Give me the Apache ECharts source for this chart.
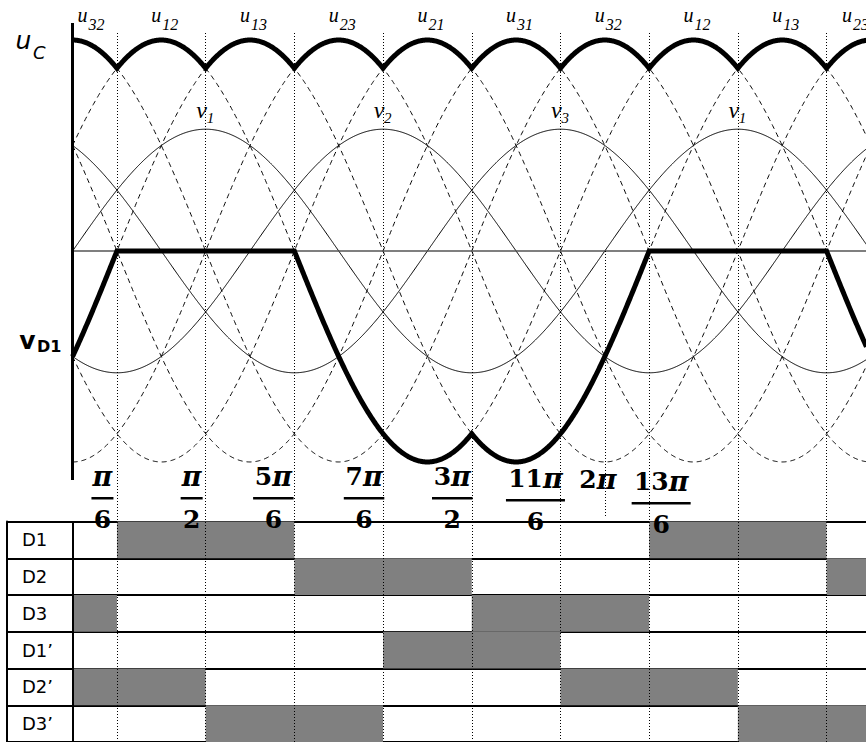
<!DOCTYPE html>
<html><head><meta charset="utf-8">
<script src="https://cdn.jsdelivr.net/npm/echarts@6/dist/echarts.min.js"></script>
<style>html,body{margin:0;padding:0;background:#fff}#c{width:866px;height:742px}</style>
</head><body><div id="c"></div>
<script>
// ---------------- data (angles in degrees of ωt, voltages in units of Vm) ----------------
const phaseNames = ['v1', 'v2', 'v3'];
const phaseShiftDeg = [0, -120, -240];
const phaseAmplitude = 1;
const linePairs = [[0, 1], [0, 2], [1, 2], [1, 0], [2, 0], [2, 1]];
const lineNames = ['u12', 'u13', 'u23', 'u21', 'u31', 'u32'];
const topLabelAngles = [0, 60, 120, 180, 240, 300, 360, 420, 480, 540];
const topLabelSubs = ['32', '12', '13', '23', '21', '31', '32', '12', '13', '23'];
const phaseLabelAngles = [90, 210, 330, 450];
const phaseLabelSubs = ['1', '2', '3', '1'];
const tickAngles = [30, 90, 150, 210, 270, 330, 390, 450, 510];
const twoPiAngle = 360;
const tickLabelAngles = [30, 90, 150, 210, 270, 330, 360, 390];
const tickNumCoef = ['', '', '5', '7', '3', '11', '2', '13'];
const tickDen = ['6', '2', '6', '6', '2', '6', '', '6'];
const diodes = ['D1', 'D2', 'D3', 'D1’', 'D2’', 'D3’'];
const D1on = [[30, 150], [390, 510]];
const D2on = [[150, 270], [510, 630]];
const D3on = [[-90, 30], [270, 390]];
const D1pOn = [[210, 330], [570, 690]];
const D2pOn = [[-30, 90], [330, 450]];
const D3pOn = [[90, 210], [450, 570]];
const diodeOn = [D1on, D2on, D3on, D1pOn, D2pOn, D3pOn];

// ---------------- layout ----------------
const W = 866, H = 742;
const X0PX = 72.6, PXPERDEG = 88.7 / 60, TABLE_LEFT = 7;
const ZEROPX = 251, PXPERV = 121.8;
const XMIN = -(X0PX - TABLE_LEFT) / PXPERDEG;
const XMAX = (W - X0PX) / PXPERDEG;
const YMAX = ZEROPX / PXPERV;
const YMIN = -(H - ZEROPX) / PXPERV;
const vAt = p => (ZEROPX - p) / PXPERV; // pixel row -> value (layout helper)
const TABLE_TOP = 521.6, ROW_H = 37.3;

// ---------------- waveforms ----------------
const rad = Math.PI / 180;
function phaseV(i, a) { return phaseAmplitude * Math.sin((a + phaseShiftDeg[i]) * rad); }
const angles = [];
for (let a = 0; a <= XMAX + 0.5; a += 0.5) angles.push(+a.toFixed(2));
const lineData = linePairs.map(p => angles.map(a => [a, phaseV(p[0], a) - phaseV(p[1], a)]));
const phaseData = phaseNames.map((n, i) => angles.map(a => [a, phaseV(i, a)]));
const uC = angles.map((a, k) => [a, Math.max.apply(null, lineData.map(s => s[k][1]))]);
const vD1 = angles.map(a => [a, phaseV(0, a) - Math.max(phaseV(0, a), phaseV(1, a), phaseV(2, a))]);

const tableData = [];
diodeOn.forEach((iv, r) => iv.forEach(s => tableData.push([s[0], s[1], r])));

const series = [];
lineData.forEach((d, i) => series.push({
  name: lineNames[i], type: 'line', xAxisIndex: 0, yAxisIndex: 0, data: d, showSymbol: false,
  silent: true, z: 2, lineStyle: { color: '#000', width: 1, type: [5, 4] }
}));
phaseData.forEach((d, i) => series.push({
  name: phaseNames[i], type: 'line', xAxisIndex: 0, yAxisIndex: 0, data: d, showSymbol: false,
  silent: true, z: 2, lineStyle: { color: '#000', width: 1 }
}));
const ml = [];
ml.push([{ coord: [0, 0], lineStyle: { color: '#555', width: 1.5, type: 'solid' } }, { coord: [XMAX, 0] }]);
ml.push([{ coord: [0, vAt(23)], lineStyle: { color: '#000', width: 3, type: 'solid' } }, { coord: [0, vAt(480)] }]);
ml.push([{ coord: [0, vAt(TABLE_TOP)], lineStyle: { color: '#000', width: 2, type: 'solid' } }, { coord: [0, YMIN] }]);
tickAngles.forEach(a => ml.push([{ coord: [a, vAt(33)], lineStyle: { color: '#000', width: 1, type: [1, 2] } }, { coord: [a, YMIN] }]));
ml.push([{ coord: [twoPiAngle, 0], lineStyle: { color: '#000', width: 1, type: [1, 2] } }, { coord: [twoPiAngle, vAt(517)] }]);
series.push({
  type: 'line', xAxisIndex: 0, yAxisIndex: 0, data: [], silent: true, z: 3,
  markLine: { symbol: ['none', 'none'], silent: true, z: 3, label: { show: false }, animation: false, data: ml }
});
series.push({
  name: 'uC', type: 'line', xAxisIndex: 0, yAxisIndex: 0, data: uC, showSymbol: false, silent: true, z: 4,
  lineStyle: { color: '#000', width: 5, join: 'miter' }
});
series.push({
  name: 'vD1', type: 'line', xAxisIndex: 0, yAxisIndex: 0, data: vD1, showSymbol: false, silent: true, z: 4,
  lineStyle: { color: '#000', width: 5, join: 'miter' }
});
series.push({
  type: 'custom', xAxisIndex: 1, yAxisIndex: 1, data: tableData, silent: true, z: 1,
  renderItem: function (params, api) {
    const r = api.value(2);
    const s = api.coord([api.value(0), r]);
    const e = api.coord([api.value(1), r + 1]);
    const x0 = api.coord([0, 0])[0];
    const cs = params.coordSys;
    const rc = echarts.graphic.clipRectByRect(
      { x: s[0], y: s[1], width: e[0] - s[0], height: e[1] - s[1] },
      { x: x0, y: cs.y, width: cs.x + cs.width - x0, height: cs.height });
    return rc ? { type: 'rect', shape: rc, style: { fill: '#808080' } } : null;
  }
});

const chart = echarts.init(document.getElementById('c'), null, { renderer: 'svg', width: W, height: H });
chart.setOption({
  animation: false,
  backgroundColor: '#fff',
  grid: [
    { left: TABLE_LEFT, right: 0, top: 0, bottom: 0 },
    { left: TABLE_LEFT, right: 0, top: TABLE_TOP, height: ROW_H * 6 }
  ],
  xAxis: [
    { gridIndex: 0, type: 'value', min: XMIN, max: XMAX, show: false },
    { gridIndex: 1, type: 'value', min: XMIN, max: XMAX, show: false }
  ],
  yAxis: [
    { gridIndex: 0, type: 'value', min: YMIN, max: YMAX, show: false },
    { gridIndex: 1, type: 'value', min: 0, max: 6, interval: 1, inverse: true,
      axisLine: { show: true, onZero: false, lineStyle: { color: '#000', width: 2 } },
      axisTick: { show: false }, axisLabel: { show: false },
      splitLine: { show: true, lineStyle: { color: '#000', width: 2.2 } } }
  ],
  series: series
});

// ---------------- text labels ----------------
const px = a => chart.convertToPixel({ gridIndex: 0 }, [a, 0])[0];
const rowY = r => chart.convertToPixel({ gridIndex: 1 }, [0, r + 0.5])[1];
function txt(x, y, text, font, align, rich) {
  const st = { text: text, font: font, textAlign: align || 'center', align: align || 'center',
      textVerticalAlign: 'middle', verticalAlign: 'middle', fill: '#000' };
  if (rich) st.rich = rich;
  return { type: 'text', x: x, y: y, silent: true, z: 100, style: st };
}
const g = [];
const SERIF_I = '"Liberation Serif", "Times New Roman", serif';
topLabelAngles.forEach((a, i) => {
  let off = -5;
  if (i === 0) off = 10;
  if (i === topLabelAngles.length - 1) off = -24;
  const cx = px(a) + off;
  g.push(txt(cx, 15, 'u', 'italic 20px ' + SERIF_I));
  g.push(txt(cx + 6, 24, topLabelSubs[i], 'italic 16px ' + SERIF_I, 'left'));
});
phaseLabelAngles.forEach((a, i) => {
  const cx = px(a) - 4;
  g.push(txt(cx, 110, 'v', 'italic 24px ' + SERIF_I));
  g.push(txt(cx + 5, 118, phaseLabelSubs[i], 'italic 15px ' + SERIF_I, 'left'));
});
const fracOff = [-14.5, -14, -21, -19, -19.5, -25, -7, 12];
const fracDy = [0, 0, 0, 0, 0, 2, 3, 5];
const FR = 'bold 25px "DejaVu Serif", serif';
const FRrich = {
  d: { font: 'bold 25px "DejaVu Serif", serif', fill: '#000' },
  p: { font: 'italic bold 27px "DejaVu Serif", serif', fill: '#000' }
};
tickLabelAngles.forEach((a, i) => {
  const cx = px(a) + fracOff[i];
  const dy = fracDy[i];
  const coef = tickNumCoef[i];
  const t = (coef ? '{d|' + coef + '}' : '') + '{p|π}';
  g.push(txt(cx, 476 + dy, t, FR, 'center', FRrich));
  if (tickDen[i]) {
    const bw = 22 + 18.5 * coef.length;
    g.push({ type: 'rect', silent: true, z: 100, shape: { x: cx - bw / 2, y: 497 + dy, width: bw, height: 2.5 }, style: { fill: '#000' } });
    g.push(txt(cx, 519 + dy, tickDen[i], FR));
  }
});
diodes.forEach((d, r) => g.push(txt(22, rowY(r), d, '18px "DejaVu Sans", sans-serif', 'left')));
g.push(txt(23.5, 40, 'u', 'italic 25px "DejaVu Sans", sans-serif'));
g.push(txt(33, 52, 'C', 'italic 18px "DejaVu Sans", sans-serif', 'left'));
g.push(txt(27.5, 340, 'v', 'bold 25px "DejaVu Sans", sans-serif'));
g.push(txt(37, 346, 'D1', 'bold 16px "DejaVu Sans", sans-serif', 'left'));
chart.setOption({ graphic: { elements: g } });
</script>
</body></html>
